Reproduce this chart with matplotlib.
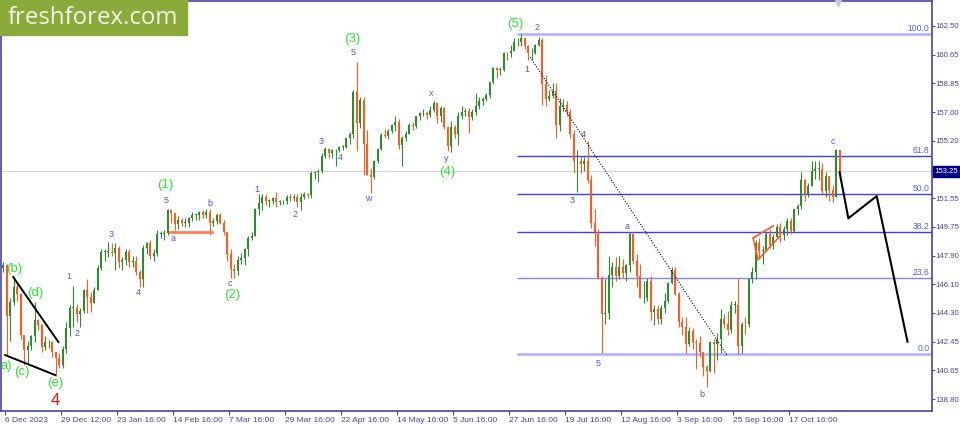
import numpy as np
import pandas as pd
import matplotlib
matplotlib.use("Agg")
import matplotlib.pyplot as plt
import matplotlib.transforms as mtransforms
from matplotlib.patches import Rectangle

# USDJPY daily bars as (high, low, close)
first_open = 147.15
dec_2023 = [(147.50, 146.90, 147.30), (147.35, 141.60, 144.10), (145.20, 142.50, 144.95),
            (146.60, 144.80, 145.95), (146.20, 145.00, 145.45), (145.55, 142.65, 142.85),
            (142.90, 140.95, 141.90), (142.50, 141.00, 142.15), (142.90, 141.90, 142.80),
            (144.95, 142.40, 143.80), (143.90, 143.20, 143.50), (143.60, 141.80, 142.10),
            (142.80, 141.95, 142.40), (142.55, 142.05, 142.40), (142.50, 141.50, 141.80),
            (141.80, 140.25, 141.40), (141.70, 140.80, 141.00)]
jan_2024 = [(142.20, 140.80, 142.00), (143.70, 141.70, 143.30), (144.80, 142.80, 144.60),
            (145.98, 143.40, 144.60), (144.85, 143.70, 144.20), (144.60, 143.40, 144.40),
            (145.80, 144.30, 145.70), (146.40, 144.30, 145.30), (145.60, 144.35, 144.90),
            (145.95, 144.90, 145.75), (147.30, 145.70, 147.15), (148.30, 147.00, 148.15),
            (148.35, 147.60, 148.15), (148.80, 147.80, 148.15), (148.70, 147.90, 148.10),
            (148.70, 146.98, 148.40), (148.50, 147.10, 147.50), (147.80, 147.00, 147.65),
            (148.30, 147.30, 148.15), (148.30, 147.20, 147.50), (147.90, 147.20, 147.60),
            (147.90, 146.70, 146.90)]
feb_2024 = [(147.00, 145.90, 146.40), (148.60, 145.90, 148.40), (148.80, 148.00, 148.70),
            (148.90, 147.70, 147.90), (148.30, 147.60, 148.05), (149.55, 147.90, 149.30),
            (149.50, 149.00, 149.30), (149.55, 148.90, 149.35), (150.90, 149.20, 150.80),
            (150.85, 150.00, 150.60), (150.50, 149.55, 149.90), (150.40, 149.60, 150.20),
            (150.30, 149.80, 150.00), (150.30, 149.70, 150.00), (150.35, 149.70, 150.30),
            (150.70, 150.10, 150.50), (150.60, 150.20, 150.50), (150.75, 150.20, 150.70),
            (150.80, 150.30, 150.50), (150.85, 150.30, 150.65), (150.90, 149.20, 149.95)]
mar_2024 = [(150.30, 149.80, 150.10), (150.60, 149.90, 150.50), (150.60, 149.90, 150.00),
            (150.20, 149.20, 149.40), (149.40, 147.60, 148.00), (148.30, 146.50, 147.05),
            (147.40, 146.50, 146.95), (147.90, 146.70, 147.65), (148.10, 147.40, 147.75),
            (148.40, 147.30, 148.30), (149.15, 147.90, 149.05), (149.40, 148.90, 149.15),
            (150.95, 149.20, 150.85), (151.80, 150.50, 151.25), (151.85, 150.80, 151.60),
            (151.85, 151.10, 151.40), (151.50, 151.00, 151.40), (151.60, 151.20, 151.55),
            (151.98, 151.00, 151.30), (151.45, 151.10, 151.35), (151.45, 151.20, 151.35)]
apr_2024 = [(151.75, 151.20, 151.65), (151.80, 151.40, 151.55), (151.80, 151.40, 151.65),
            (151.85, 151.00, 151.30), (151.90, 150.80, 151.60), (151.95, 151.50, 151.85),
            (151.90, 151.55, 151.75), (153.25, 151.55, 153.15), (153.30, 152.75, 153.20),
            (153.40, 152.60, 153.25), (154.45, 153.15, 154.25), (154.80, 154.10, 154.65),
            (154.75, 154.10, 154.40), (154.70, 154.10, 154.60), (154.65, 153.60, 154.60),
            (154.85, 154.50, 154.80), (154.90, 154.60, 154.80), (155.40, 154.75, 155.35),
            (155.75, 155.00, 155.60), (158.45, 155.40, 158.30), (160.20, 154.55, 156.30),
            (157.95, 156.00, 157.80)]
may_2024 = [(157.99, 153.05, 155.00), (155.90, 153.00, 153.00), (153.50, 151.86, 152.90),
            (154.00, 152.80, 153.90), (154.75, 153.80, 154.70), (155.70, 154.60, 155.55),
            (155.95, 155.40, 155.50), (155.95, 155.30, 155.80), (156.25, 155.70, 156.20),
            (156.80, 155.80, 156.40), (156.60, 154.70, 154.90), (155.50, 153.60, 155.40),
            (155.80, 155.20, 155.65), (156.30, 155.60, 156.20), (156.40, 155.90, 156.15),
            (156.80, 156.00, 156.80), (157.00, 156.50, 156.95), (157.20, 156.80, 156.95),
            (157.10, 156.60, 156.85), (157.40, 156.70, 157.15), (157.70, 157.00, 157.60),
            (157.60, 156.35, 156.80), (157.40, 156.40, 157.25)]
jun_2024 = [(157.35, 155.95, 156.10), (156.15, 154.55, 154.85), (156.45, 154.50, 156.10),
            (156.20, 155.35, 155.60), (157.00, 154.90, 156.75), (157.40, 156.60, 157.05),
            (157.25, 156.80, 157.10), (157.25, 155.70, 156.70), (157.20, 156.50, 157.00),
            (158.25, 156.85, 157.40), (158.00, 157.20, 157.70), (157.95, 157.50, 157.85),
            (158.25, 157.70, 158.10), (158.95, 157.90, 158.90), (159.85, 158.80, 159.80),
            (159.90, 159.20, 159.70), (159.90, 159.40, 159.70), (160.85, 159.60, 160.80),
            (160.85, 160.30, 160.75), (161.25, 160.50, 160.90)]
jul_2024 = [(161.70, 160.90, 161.45), (161.75, 161.20, 161.45), (161.95, 161.20, 161.70),
            (161.75, 161.05, 161.20), (161.25, 160.30, 160.75), (161.10, 160.30, 160.80),
            (161.35, 160.70, 161.30), (161.80, 161.20, 161.60), (161.75, 157.45, 158.80),
            (159.40, 157.40, 157.85), (158.40, 157.70, 158.05), (158.85, 157.90, 158.35),
            (158.85, 155.40, 156.20), (157.90, 155.80, 157.40), (157.85, 157.10, 157.45),
            (157.70, 156.80, 157.00), (157.20, 155.40, 155.60), (155.90, 153.15, 153.90),
            (154.60, 151.95, 153.90), (154.25, 153.15, 153.75), (154.20, 153.30, 153.90),
            (155.20, 152.50, 152.70), (153.05, 149.65, 150.00)]
aug_2024 = [(150.90, 148.50, 149.40), (149.60, 146.40, 146.50), (146.60, 141.70, 144.20),
            (146.40, 143.60, 144.30), (147.90, 143.90, 146.70), (147.50, 145.90, 147.20),
            (147.80, 146.30, 146.60), (147.90, 146.40, 147.20), (147.70, 146.50, 146.80),
            (147.40, 146.30, 147.30), (149.40, 146.90, 149.30), (149.35, 147.40, 147.60),
            (148.00, 145.90, 146.60), (147.35, 145.20, 145.20), (146.30, 144.90, 145.20),
            (146.50, 145.00, 146.30), (146.60, 143.80, 144.35), (144.80, 143.50, 144.55),
            (144.80, 143.60, 143.90), (144.80, 143.60, 144.60), (145.55, 144.30, 145.00),
            (146.25, 144.90, 146.20)]
sep_2024 = [(147.20, 146.10, 147.00), (147.20, 145.40, 145.50), (145.60, 143.40, 143.70),
            (144.00, 142.90, 143.40), (144.00, 141.75, 142.30), (143.40, 142.20, 143.10),
            (143.30, 142.00, 142.40), (142.60, 140.70, 142.35), (142.80, 141.50, 141.80),
            (141.80, 140.30, 140.85), (141.00, 139.58, 140.60), (142.50, 140.50, 142.40),
            (142.60, 140.45, 142.30), (143.00, 141.30, 142.65), (144.50, 141.70, 143.90),
            (144.20, 143.30, 143.60), (144.40, 142.90, 143.20), (145.00, 143.00, 144.80),
            (145.00, 144.30, 144.80), (146.50, 141.65, 142.20), (143.70, 141.70, 143.60)]
oct_2024 = [(144.00, 142.95, 143.55), (146.50, 143.40, 146.45), (147.20, 146.20, 146.90),
            (148.90, 146.40, 148.70), (149.00, 147.80, 148.20), (148.50, 147.40, 148.20),
            (149.40, 148.20, 149.30), (149.60, 148.40, 148.60), (149.30, 148.30, 149.10),
            (149.90, 148.95, 149.75), (149.95, 148.80, 149.20), (149.80, 148.90, 149.60),
            (150.30, 149.20, 150.10), (150.30, 149.30, 149.50), (150.90, 149.40, 150.85),
            (151.20, 150.50, 151.05), (153.20, 150.90, 152.70), (152.75, 151.40, 151.80),
            (152.50, 151.60, 152.30), (153.90, 152.40, 153.30), (153.90, 152.80, 153.40),
            (153.90, 152.70, 153.40), (153.80, 151.80, 152.00)]
nov_2024 = [(153.20, 151.60, 152.95), (152.60, 151.40, 152.10), (152.40, 151.30, 151.60),
            (154.70, 151.90, 154.60), (154.50, 152.70, 153.25)]

last_price = 153.25
fib_high = 161.95
fib_low = 141.68
fib_levels = [0.0, 23.6, 38.2, 50.0, 61.8, 100.0]

y_ticks = [162.50, 160.65, 158.85, 157.00, 155.20, 151.55, 149.75,
           147.90, 146.10, 144.30, 142.45, 140.65, 138.80]
tick_dates = ["2023-12-06", "2023-12-29", "2024-01-23", "2024-02-14", "2024-03-07",
              "2024-03-29", "2024-04-22", "2024-05-14", "2024-06-05", "2024-06-27",
              "2024-07-19", "2024-08-12", "2024-09-03", "2024-09-25", "2024-10-17"]
tick_labels = ["6 Dec 2023", "29 Dec 12:00", "23 Jan 16:00", "14 Feb 16:00", "7 Mar 16:00",
               "29 Mar 16:00", "22 Apr 16:00", "14 May 16:00", "5 Jun 16:00", "27 Jun 16:00",
               "19 Jul 16:00", "12 Aug 16:00", "3 Sep 16:00", "25 Sep 16:00", "17 Oct 16:00"]

# trading days on the chart (no bars on Christmas / New Year)
dates = pd.bdate_range("2023-12-06", "2024-11-07")
dates = dates[~dates.isin(pd.to_datetime(["2023-12-25", "2024-01-01"]))]

bars = (dec_2023 + jan_2024 + feb_2024 + mar_2024 + apr_2024 + may_2024 +
        jun_2024 + jul_2024 + aug_2024 + sep_2024 + oct_2024 + nov_2024)
highs, lows, closes = np.array(bars).T
opens = np.r_[first_open, closes[:-1]]
highs = np.maximum(highs, np.maximum(opens, closes))
lows = np.minimum(lows, np.minimum(opens, closes))
x = np.arange(len(bars))

axis_col = "#4646a0"
bull = "#2e8b2e"
bear = "#ff5a22"
font = "Liberation Sans"

fig = plt.figure(figsize=(9.6, 4.24), dpi=100)
ax = fig.add_axes([1 / 960, 13 / 424, 931 / 960, 410 / 424])
ax.set_xlim(-0.59, 265.4)
ax.set_ylim(138.05, 164.07)

# current price line
ax.axhline(last_price, color="#d6d6d6", lw=0.8, zorder=1)

# fibonacci grid
fib_start = 146.7
for lev in fib_levels:
    price = fib_low + (fib_high - fib_low) * lev / 100
    if lev in (0.0, 100.0):
        col, lw = "#b4b4ff", 2.0
    elif lev == 23.6:
        col, lw = "#8484ff", 1.0
    else:
        col, lw = "#3c3cff", 1.0
    ax.plot([fib_start, 265.4], [price, price], color=col, lw=lw, zorder=2,
            solid_capstyle="butt")
    ax.text(264.7, price + 0.06, f"{lev:.1f}", color="#5a5ad0", fontsize=6.2,
            ha="right", va="bottom", family=font, zorder=3)

# candles
up = closes >= opens
colors = np.where(up, bull, bear)
ax.vlines(x, lows, highs, colors=colors, lw=0.8, zorder=4)
body_lo = np.minimum(opens, closes)
body_h = np.maximum(np.abs(closes - opens), 0.04)
ax.bar(x, body_h, bottom=body_lo, width=0.6, color=colors, lw=0, zorder=5)

# trend lines and wave figures
ax.plot([2.9, 15.8], [146.55, 142.43], color="black", lw=1.4, zorder=6)
ax.plot([0.6, 14.9], [141.6, 140.33], color="black", lw=1.4, zorder=6)
ax.plot([47.8, 59.7], [149.41, 149.41], color="#ff7f50", lw=2, zorder=6)
ax.plot([214.3, 220.0], [149.03, 149.79], color=bear, lw=1.2, zorder=6)
ax.plot([214.3, 215.7, 222.0], [149.03, 147.65, 149.16], color=bear, lw=1.2, zorder=6)
ax.plot([150.6, 206.8], [160.51, 141.6], color="black", lw=0.8, ls=(0, (1, 1.5)), zorder=6)
ax.plot([239, 241.5, 249.6, 258.4], [153.2, 150.28, 151.69, 142.45], color="black",
        lw=1.5, zorder=6)

# wave labels
blue_labels = [("5", 46.5, 151.44), ("b", 59.1, 151.23), ("a", 48.6, 148.97),
               ("c", 64.8, 146.15), ("4", 38.5, 145.56), ("3", 31.0, 149.22),
               ("1", 18.9, 146.57), ("2", 21.0, 142.98), ("5", 99.9, 160.79),
               ("3", 91.0, 155.14), ("4", 96.3, 154.15), ("1", 72.5, 152.12),
               ("2", 83.4, 150.55), ("w", 104.4, 151.55), ("x", 122.2, 158.21),
               ("y", 126.5, 154.09), ("2", 152.5, 162.37), ("1", 149.6, 159.75),
               ("4", 165.8, 155.61), ("3", 162.6, 151.40), ("5", 169.9, 141.08),
               ("a", 178.2, 149.75), ("b", 199.8, 139.07), ("c", 237.0, 155.14)]
green_labels = [("(1)", 46.3, 152.39), ("(2)", 65.5, 145.41), ("(3)", 99.9, 161.66),
                ("(4)", 126.8, 153.24), ("(5)", 146.3, 162.61), ("(b)", 3.1, 147.06),
                ("(d)", 9.1, 145.52), ("(c)", 5.5, 140.54), ("(e)", 14.8, 139.81),
                ("a)", 1.0, 140.91)]
for t, xi, yi in blue_labels:
    ax.text(xi, yi, t, color="#5050f0", fontsize=6.5, ha="center", va="center",
            family=font, zorder=7)
for t, xi, yi in green_labels:
    ax.text(xi, yi, t, color="#2ee62e", fontsize=9.5, ha="center", va="center",
            family=font, zorder=7)
ax.text(14.8, 138.73, "4", color="#ee1010", fontsize=12, ha="center", va="center",
        family=font, zorder=7)

# axes styling
for s in ax.spines.values():
    s.set_color(axis_col)
    s.set_linewidth(1.2)
ax.yaxis.tick_right()
ax.set_yticks(y_ticks, [f"{v:.2f}" for v in y_ticks])
tick_pos = [dates.get_loc(pd.Timestamp(d)) + 0.5 for d in tick_dates]
ax.set_xticks(tick_pos, tick_labels)
for lbl in ax.get_xticklabels():
    lbl.set_horizontalalignment("left")
ax.tick_params(axis="x", colors=axis_col, labelsize=6, length=3, width=0.8, pad=1.5)
ax.tick_params(axis="y", colors=axis_col, labelsize=5.6, length=2, width=0.8, pad=0.5)
for lbl in ax.get_xticklabels() + ax.get_yticklabels():
    lbl.set_family(font)

# current price tag on the axis
trans = mtransforms.blended_transform_factory(ax.transAxes, ax.transData)
ax.text(1.0025, last_price, f"{last_price:.2f}", transform=trans, color="white",
        fontsize=5.6, ha="left", va="center", family=font, clip_on=False,
        bbox=dict(boxstyle="square,pad=0.2", fc="#000080", ec="#000080"), zorder=8)
ax.plot([238.6], [163.95], marker="v", color="#c8c8c8", ms=4, clip_on=False, zorder=8)

# watermark
fig.patches.append(Rectangle((0, 1 - 35 / 424), 187 / 960, 35 / 424,
                             transform=fig.transFigure, color="#8aab3a", zorder=10))
fig.text(8 / 960, 1 - 18 / 424, "freshforex.com", color="#f4f7ea", fontsize=17.3,
         family="Open Sans", va="center", ha="left", zorder=11)

fig.savefig("out.png", dpi=100)
